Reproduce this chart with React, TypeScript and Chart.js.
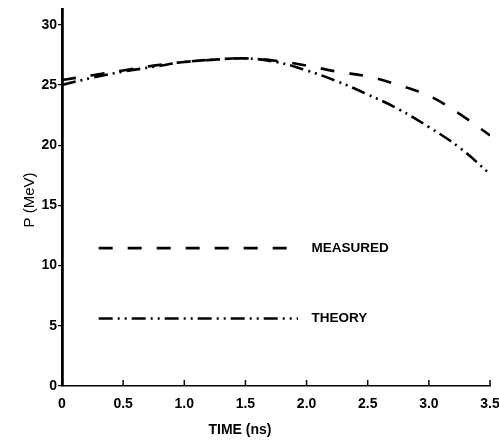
import React, { useEffect, useRef } from "react";
import { Chart, registerables } from "chart.js";

Chart.register(...registerables);

const timeNs = [0, 0.25, 0.5, 0.75, 1.0, 1.25, 1.5, 1.75, 2.0, 2.25, 2.5, 2.75, 3.0, 3.25, 3.5];
const measured = [25.4, 25.8, 26.2, 26.6, 26.9, 27.1, 27.2, 27.0, 26.6, 26.1, 25.7, 25.0, 24.1, 22.6, 20.8];
const theory = [25.0, 25.6, 26.1, 26.5, 26.9, 27.1, 27.2, 26.9, 26.2, 25.3, 24.2, 23.0, 21.5, 19.8, 17.6];

const xTicks = [0, 0.5, 1.0, 1.5, 2.0, 2.5, 3.0, 3.5];
const xTickLabels = ["0", "0.5", "1.0", "1.5", "2.0", "2.5", "3.0", "3.5"];
const yTicks = [0, 5, 10, 15, 20, 25, 30];
const yTickLabels = ["0", "5", "10", "15", "20", "25", "30"];

const legendLineX = [0.3, 1.93];
const legendMeasuredY = [11.45, 11.45];
const legendTheoryY = [5.6, 5.6];
const legendLabels = ["MEASURED", "THEORY"];
const legendTextX = 2.04;

const xTitle = "TIME (ns)";
const yTitle = "P (MeV)";

const FONT = "'Liberation Sans', Arial, sans-serif";
const MEASURED_DASH = [14, 15];
const THEORY_DASH = [14, 5, 2, 5, 2, 5];

export default function App() {
  const ref = useRef<HTMLCanvasElement | null>(null);

  useEffect(() => {
    if (!ref.current) return;
    const decor = {
      id: "decor",
      afterDraw(chart: any) {
        const { ctx, scales } = chart;
        const x = scales.x;
        const y = scales.y;
        ctx.save();
        ctx.strokeStyle = "#000";
        ctx.lineWidth = 1.5;
        xTicks.forEach((v) => {
          const px = x.getPixelForValue(v);
          ctx.beginPath();
          ctx.moveTo(px, y.bottom);
          ctx.lineTo(px, y.bottom - 6);
          ctx.stroke();
        });
        ctx.fillStyle = "#000";
        ctx.font = `bold 13.5px ${FONT}`;
        ctx.textBaseline = "middle";
        ctx.textAlign = "left";
        ctx.fillText(legendLabels[0], x.getPixelForValue(legendTextX), y.getPixelForValue(legendMeasuredY[0]));
        ctx.fillText(legendLabels[1], x.getPixelForValue(legendTextX), y.getPixelForValue(legendTheoryY[0]));
        ctx.font = `bold 14px ${FONT}`;
        ctx.textAlign = "center";
        ctx.fillText(xTitle, 240, 430);
        ctx.font = `15px ${FONT}`;
        ctx.translate(30, 200);
        ctx.rotate(-Math.PI / 2);
        ctx.fillText(yTitle, 0, 0);
        ctx.restore();
      },
    };

    const chart = new Chart(ref.current, {
      type: "line",
      data: {
        datasets: [
          {
            label: "MEASURED",
            data: timeNs.map((t, i) => ({ x: t, y: measured[i] })),
            borderColor: "#000",
            borderWidth: 2.6,
            borderDash: MEASURED_DASH,
            pointRadius: 0,
            tension: 0.4,
            fill: false,
          },
          {
            label: "THEORY",
            data: timeNs.map((t, i) => ({ x: t, y: theory[i] })),
            borderColor: "#000",
            borderWidth: 2.6,
            borderDash: THEORY_DASH,
            pointRadius: 0,
            tension: 0.4,
            fill: false,
          },
          {
            label: "legend-measured",
            data: legendLineX.map((t, i) => ({ x: t, y: legendMeasuredY[i] })),
            borderColor: "#000",
            borderWidth: 2.6,
            borderDash: MEASURED_DASH,
            pointRadius: 0,
            fill: false,
          },
          {
            label: "legend-theory",
            data: legendLineX.map((t, i) => ({ x: t, y: legendTheoryY[i] })),
            borderColor: "#000",
            borderWidth: 2.6,
            borderDash: THEORY_DASH,
            pointRadius: 0,
            fill: false,
          },
        ],
      },
      options: {
        animation: false,
        responsive: true,
        maintainAspectRatio: false,
        layout: { padding: { top: 9, right: 9, left: 0, bottom: 0 } },
        plugins: { legend: { display: false }, tooltip: { enabled: false } },
        scales: {
          x: {
            type: "linear",
            min: 0,
            max: 3.5,
            afterFit: (s: any) => {
              s.height = 59;
              s.paddingLeft = 0;
              s.paddingRight = 0;
            },
            afterBuildTicks: (s: any) => {
              s.ticks = xTicks.map((v) => ({ value: v }));
            },
            grid: { display: true, drawOnChartArea: false, drawTicks: false, tickLength: 0 },
            border: { display: true, color: "#000", width: 1.5 },
            ticks: {
              padding: 10,
              color: "#000",
              font: { family: FONT, size: 14, weight: "bold" },
              maxRotation: 0,
              autoSkip: false,
              callback: (v: any) => xTickLabels[xTicks.indexOf(Number(v))] ?? "",
            },
          },
          y: {
            type: "linear",
            min: 0,
            max: 31.3,
            afterFit: (s: any) => {
              s.width = 62;
              s.paddingTop = 0;
              s.paddingBottom = 0;
            },
            afterBuildTicks: (s: any) => {
              s.ticks = yTicks.map((v) => ({ value: v }));
            },
            grid: { display: true, drawOnChartArea: false, drawTicks: true, tickLength: 4, color: "#000", lineWidth: 1.2 },
            border: { display: true, color: "#000", width: 2.8 },
            ticks: {
              padding: 1,
              color: "#000",
              font: { family: FONT, size: 14, weight: "bold" },
              autoSkip: false,
              callback: (v: any) => yTickLabels[yTicks.indexOf(Number(v))] ?? "",
            },
          },
        },
      },
      plugins: [decor],
    } as any);
    return () => chart.destroy();
  }, []);

  return (
    <div style={{ position: "fixed", left: 0, top: 0, width: 499, height: 445, background: "#fff" }}>
      <canvas ref={ref} />
    </div>
  );
}
